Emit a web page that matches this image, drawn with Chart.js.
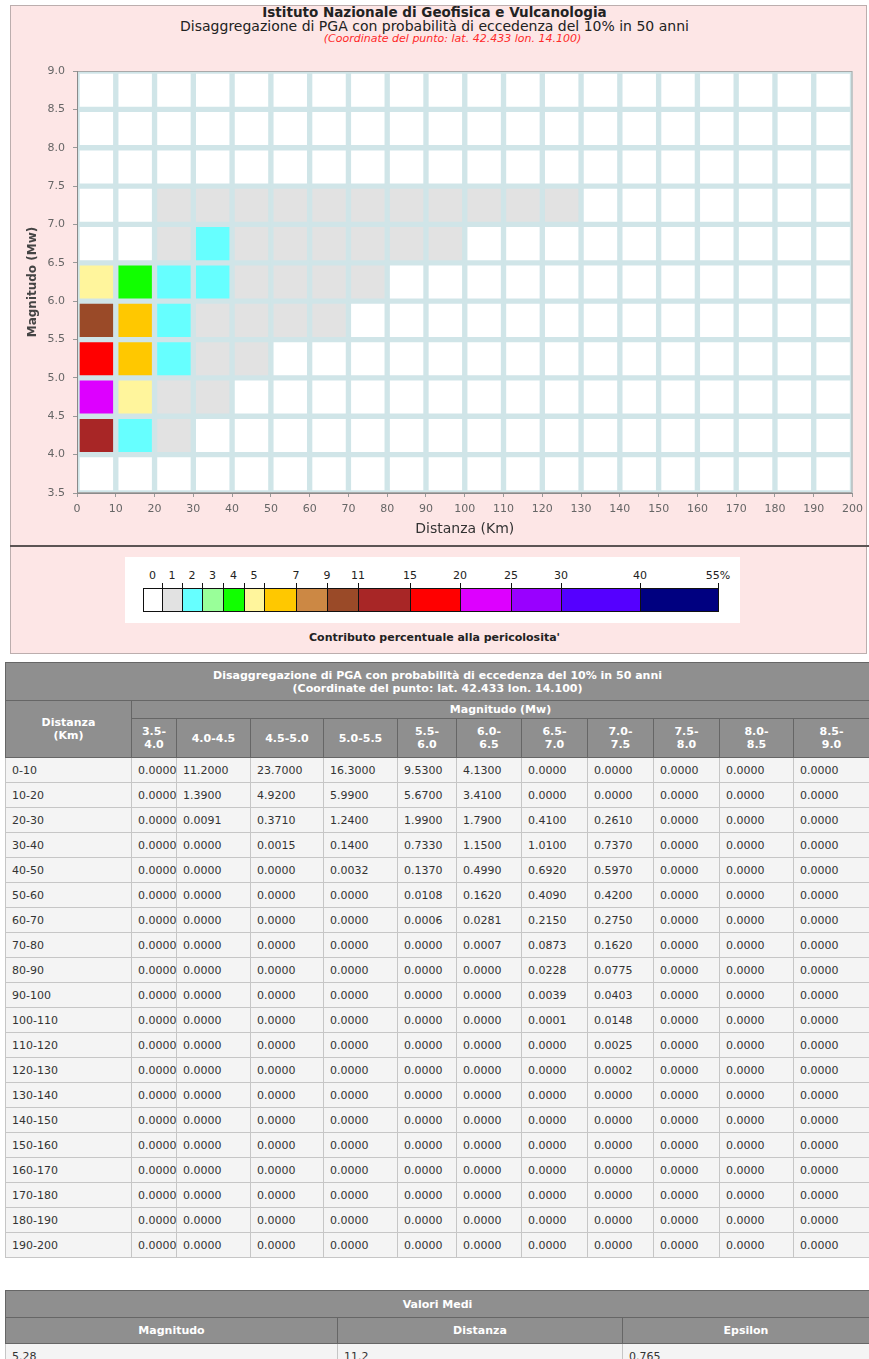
<!DOCTYPE html>
<html lang="it">
<head>
  <meta charset="UTF-8">
  <title>Disaggregazione di PGA</title>
  <script src="https://cdn.jsdelivr.net/npm/chart.js"></script>
  <style>
    body {
      margin: 0;
      background: #fff;
      font-family: 'DejaVu Sans', sans-serif;
      width: 869px;
      height: 1359px;
      overflow: hidden;
      position: relative;
    }
    #pannello-grafico {
      position: absolute; left: 10px; top: 5px; width: 855px; height: 539px;
      background: #fde6e6; border: 1px solid #bcaeae;
    }
    .titolo { position: absolute; left: 0; width: 869px; text-align: center; color: #222; white-space: nowrap; }
    #t1 { top: 4px; font-size: 13.5px; font-weight: bold; }
    #t2 { top: 18px; font-size: 14px; }
    #t3 { top: 32px; left: 18px; font-size: 11px; font-style: italic; color: #ff2a2a; }
    #contenitore { position: absolute; left: 0; top: 45px; width: 869px; height: 500px; }
    #separatore { position: absolute; left: 10px; top: 545px; width: 859px; height: 2px; background: #5c5454; }
    #pannello-legenda {
      position: absolute; left: 10px; top: 547px; width: 855px; height: 106px;
      background: #fde6e6; border: 1px solid #bcaeae; border-top: none;
    }
    #riquadro { position: absolute; left: 125px; top: 557px; width: 615px; height: 66px; background: #fff; }
    #scala { position: absolute; left: 143px; top: 588px; height: 24px; }
    .casella { position: absolute; top: 0; height: 22px; border: 1px solid #111; box-sizing: content-box; }
    .tacca { position: absolute; top: -5px; width: 1px; height: 5px; background: #111; }
    .etichetta { position: absolute; top: -19px; font-size: 11px; color: #222; transform: translateX(-50%); white-space: nowrap; }
    #titolo-scala { position: absolute; left: 0; width: 869px; top: 631px; text-align: center; font-size: 11px; font-weight: bold; color: #222; }
    table { position: absolute; left: 5px; border-collapse: collapse; table-layout: fixed; font-size: 11px; }
    th { background: #8f8f8f; color: #fff; font-weight: bold; border: 1px solid #666; padding: 0 4px; text-align: center; }
    td { background: #f4f4f4; color: #333; border: 1px solid #c6c6c6; padding: 0 0 0 6px; text-align: left; white-space: nowrap; }
    #tabella { top: 662px; width: 864px; }
    #medi { top: 1290px; width: 864px; }
  </style>
</head>
<body>

  <div id="pannello-grafico"></div>
  <div class="titolo" id="t1">Istituto Nazionale di Geofisica e Vulcanologia</div>
  <div class="titolo" id="t2">Disaggregazione di PGA con probabilità di eccedenza del 10% in 50 anni</div>
  <div class="titolo" id="t3">(Coordinate del punto: lat. 42.433 lon. 14.100)</div>
  <div id="contenitore"><canvas id="grafico"></canvas></div>

  <div id="separatore"></div>
  <div id="pannello-legenda"></div>
  <div id="riquadro"></div>
  <div id="scala"></div>
  <div id="titolo-scala">Contributo percentuale alla pericolosita'</div>

  <table id="tabella"></table>
  <table id="medi"></table>

  <script>
    var fasceDistanza = ['0-10', '10-20', '20-30', '30-40', '40-50', '50-60', '60-70', '70-80', '80-90', '90-100',
      '100-110', '110-120', '120-130', '130-140', '140-150', '150-160', '160-170', '170-180', '180-190', '190-200'];
    var fasceMagnitudo = ['3.5-4.0', '4.0-4.5', '4.5-5.0', '5.0-5.5', '5.5-6.0', '6.0-6.5',
      '6.5-7.0', '7.0-7.5', '7.5-8.0', '8.0-8.5', '8.5-9.0'];

    // contributo percentuale: una riga per fascia di distanza, una colonna per fascia di magnitudo
    var contributi = [
      [0, 11.2, 23.7, 16.3, 9.53, 4.13, 0, 0, 0, 0, 0],
      [0, 1.39, 4.92, 5.99, 5.67, 3.41, 0, 0, 0, 0, 0],
      [0, 0.0091, 0.371, 1.24, 1.99, 1.79, 0.41, 0.261, 0, 0, 0],
      [0, 0, 0.0015, 0.14, 0.733, 1.15, 1.01, 0.737, 0, 0, 0],
      [0, 0, 0, 0.0032, 0.137, 0.499, 0.692, 0.597, 0, 0, 0],
      [0, 0, 0, 0, 0.0108, 0.162, 0.409, 0.42, 0, 0, 0],
      [0, 0, 0, 0, 0.0006, 0.0281, 0.215, 0.275, 0, 0, 0],
      [0, 0, 0, 0, 0, 0.0007, 0.0873, 0.162, 0, 0, 0],
      [0, 0, 0, 0, 0, 0, 0.0228, 0.0775, 0, 0, 0],
      [0, 0, 0, 0, 0, 0, 0.0039, 0.0403, 0, 0, 0],
      [0, 0, 0, 0, 0, 0, 0.0001, 0.0148, 0, 0, 0],
      [0, 0, 0, 0, 0, 0, 0, 0.0025, 0, 0, 0],
      [0, 0, 0, 0, 0, 0, 0, 0.0002, 0, 0, 0],
      [0, 0, 0, 0, 0, 0, 0, 0, 0, 0, 0],
      [0, 0, 0, 0, 0, 0, 0, 0, 0, 0, 0],
      [0, 0, 0, 0, 0, 0, 0, 0, 0, 0, 0],
      [0, 0, 0, 0, 0, 0, 0, 0, 0, 0, 0],
      [0, 0, 0, 0, 0, 0, 0, 0, 0, 0, 0],
      [0, 0, 0, 0, 0, 0, 0, 0, 0, 0, 0],
      [0, 0, 0, 0, 0, 0, 0, 0, 0, 0, 0]
    ];

    var soglieScala = [0, 1, 2, 3, 4, 5, 7, 9, 11, 15, 20, 25, 30, 40, 55];
    var coloriScala = ['#ffffff', '#e2e2e2', '#66ffff', '#99ff99', '#11ff00', '#fff59c', '#ffc800',
      '#cc8844', '#9a4a28', '#a82626', '#ff0000', '#dd00ff', '#9900ff', '#5500ff', '#000080'];

    var intestazioniMedi = ['Magnitudo', 'Distanza', 'Epsilon'];
    var valoriMedi = ['5.28', '11.2', '0.765'];

    var coloreGriglia = '#d0e5e8';

    function coloreCella(v) {
      // i valori sotto 0.0001 restano bianchi nella mappa
      if (v <= 0.0001) return coloriScala[0];
      for (var i = 1; i < soglieScala.length; i++) {
        if (v <= soglieScala[i]) return coloriScala[i];
      }
      return coloriScala[coloriScala.length - 1];
    }

    // celle della mappa: barre fluttuanti su asse x lineare
    var celle = [];
    var coloriCelle = [];
    fasceDistanza.forEach(function (fd, i) {
      var d = fd.split('-').map(Number);
      fasceMagnitudo.forEach(function (fm, j) {
        var m = fm.split('-').map(Number);
        celle.push({ x: (d[0] + d[1]) / 2, y: [m[0], m[1]] });
        coloriCelle.push(coloreCella(contributi[i][j]));
      });
    });

    var cornice = {
      id: 'cornice',
      beforeDraw: function (chart) {
        var a = chart.chartArea;
        var ctx = chart.ctx;
        ctx.save();
        ctx.fillStyle = coloreGriglia;
        ctx.fillRect(a.left, a.top, a.right - a.left, a.bottom - a.top);
        ctx.restore();
      },
      afterDraw: function (chart) {
        var a = chart.chartArea;
        var ctx = chart.ctx;
        ctx.save();
        ctx.lineWidth = 1;
        ctx.strokeStyle = '#a9a9a9';
        ctx.strokeRect(a.left + 0.5, a.top + 0.5, a.right - a.left - 1, a.bottom - a.top - 1);
        ctx.strokeStyle = '#8a8a8a';
        ctx.beginPath();
        ctx.moveTo(a.left + 0.5, a.top);
        ctx.lineTo(a.left + 0.5, a.bottom + 0.5);
        ctx.lineTo(a.right, a.bottom + 0.5);
        ctx.stroke();
        ctx.restore();
      }
    };

    var fontAssi = { family: 'DejaVu Sans', size: 11 };

    new Chart(document.getElementById('grafico'), {
      type: 'bar',
      data: {
        datasets: [{
          data: celle,
          backgroundColor: coloriCelle,
          borderColor: coloreGriglia,
          borderWidth: 3,
          borderSkipped: false,
          categoryPercentage: 1,
          barPercentage: 1
        }]
      },
      options: {
        responsive: true,
        maintainAspectRatio: false,
        animation: false,
        layout: { padding: { top: 26, right: 10, left: 0, bottom: 0 } },
        plugins: {
          legend: { display: false },
          tooltip: { enabled: false }
        },
        scales: {
          x: {
            type: 'linear',
            min: 0,
            max: 200,
            offset: false,
            border: { display: false },
            grid: { offset: false, drawOnChartArea: false, tickLength: 4, color: '#999' },
            ticks: { stepSize: 10, autoSkip: false, maxRotation: 0, padding: 6, color: '#666', font: fontAssi },
            title: {
              display: true,
              text: 'Distanza (Km)',
              color: '#333',
              font: { family: 'DejaVu Sans', size: 14 },
              padding: { top: 0, bottom: 7 }
            },
            afterFit: function (s) { s.height = 52; }
          },
          y: {
            type: 'linear',
            min: 3.5,
            max: 9,
            border: { display: false },
            grid: { drawOnChartArea: false, tickLength: 4, color: '#999' },
            ticks: {
              stepSize: 0.5,
              padding: 8,
              color: '#666',
              font: fontAssi,
              callback: function (v) { return v.toFixed(1); }
            },
            title: {
              display: true,
              text: 'Magnitudo (Mw)',
              color: '#444',
              font: { family: 'DejaVu Sans', size: 12, weight: 'bold' },
              padding: { top: 26, bottom: 0 }
            },
            afterFit: function (s) { s.width = 77; }
          }
        }
      },
      plugins: [cornice]
    });

    // scala dei colori
    var larghezzeScala = [19, 20, 20, 21, 21, 20, 32, 31, 31, 52, 50, 51, 50, 79, 78];
    var scala = document.getElementById('scala');
    var pos = 0;
    coloriScala.forEach(function (c, i) {
      var w = larghezzeScala[i];
      var box = document.createElement('div');
      box.className = 'casella';
      box.style.left = pos + 'px';
      box.style.width = (w - 1) + 'px';
      box.style.background = c;
      scala.appendChild(box);

      var tacca = document.createElement('div');
      tacca.className = 'tacca';
      tacca.style.left = (pos + w) + 'px';
      scala.appendChild(tacca);

      var et = document.createElement('div');
      et.className = 'etichetta';
      et.textContent = soglieScala[i] + (i === soglieScala.length - 1 ? '%' : '');
      et.style.left = (i < 6 ? pos + w / 2 : pos + w) + 'px';
      scala.appendChild(et);
      pos += w;
    });

    // tabella dei contributi
    var larghezzeColonne = [126, 45, 74, 73, 74, 59, 65, 66, 66, 66, 74, 76];
    var html = '<colgroup>';
    larghezzeColonne.forEach(function (w) { html += '<col style="width:' + w + 'px">'; });
    html += '</colgroup>';
    html += '<tr style="height:38px"><th colspan="12">Disaggregazione di PGA con probabilità di eccedenza del 10% in 50 anni<br>(Coordinate del punto: lat. 42.433 lon. 14.100)</th></tr>';
    html += '<tr style="height:18px"><th rowspan="2">Distanza<br>(Km)</th><th colspan="11">Magnitudo (Mw)</th></tr>';
    html += '<tr style="height:39px">';
    fasceMagnitudo.forEach(function (fm, j) {
      var massimo = Math.max.apply(null, contributi.map(function (r) { return r[j]; }));
      html += '<th>' + (massimo < 10 ? fm.replace('-', '-<br>') : fm) + '</th>';
    });
    html += '</tr>';
    fasceDistanza.forEach(function (fd, i) {
      html += '<tr style="height:25px"><td>' + fd + '</td>';
      contributi[i].forEach(function (v) { html += '<td>' + v.toFixed(4) + '</td>'; });
      html += '</tr>';
    });
    document.getElementById('tabella').innerHTML = html;

    var h = '<colgroup><col style="width:332px"><col style="width:285px"><col style="width:247px"></colgroup>';
    h += '<tr style="height:27px"><th colspan="3">Valori Medi</th></tr><tr style="height:26px">';
    intestazioniMedi.forEach(function (t) { h += '<th>' + t + '</th>'; });
    h += '</tr><tr style="height:25px">';
    valoriMedi.forEach(function (v) { h += '<td>' + v + '</td>'; });
    h += '</tr>';
    document.getElementById('medi').innerHTML = h;
  </script>

</body>
</html>
